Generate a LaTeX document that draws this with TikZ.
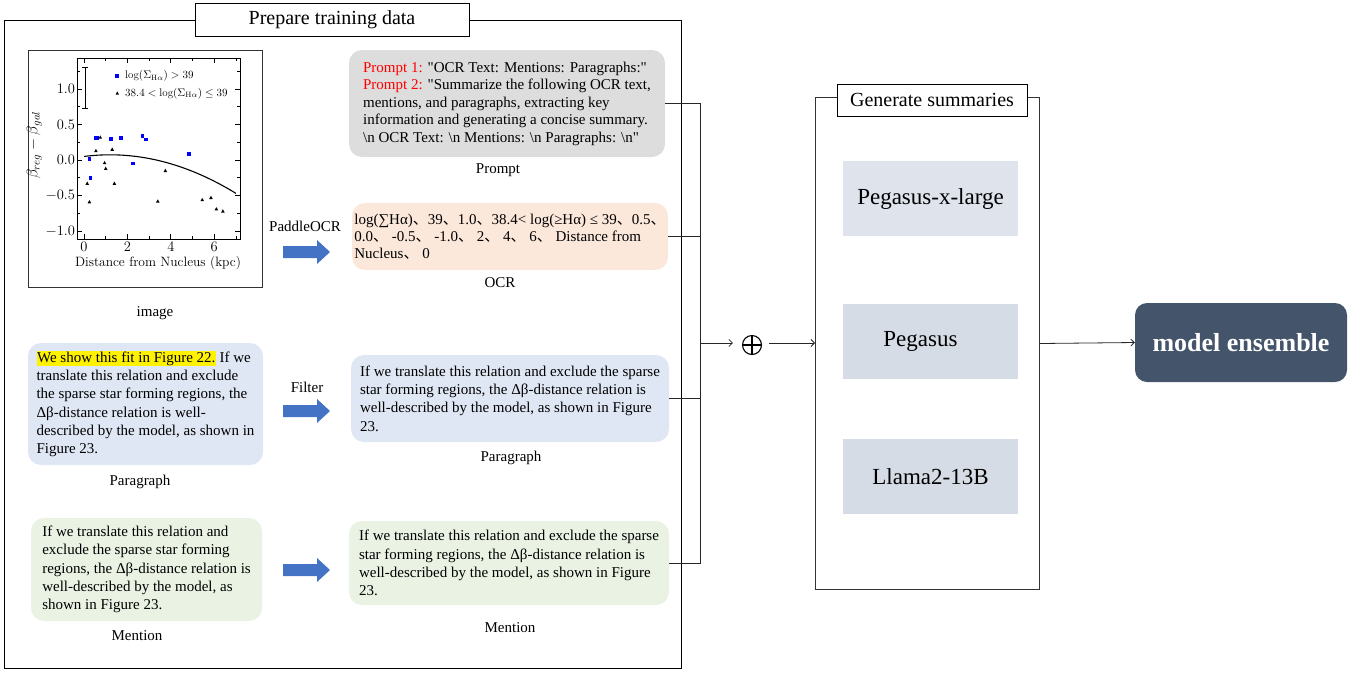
\RequirePackage{fix-cm}
\documentclass[tikz,border=0pt]{standalone}
\usepackage{fontspec}
\usetikzlibrary{arrows.meta,calc}
\newfontfamily\tnr{Liberation Serif}
\newfontfamily\cjk{Noto Sans CJK SC}
\newcommand{\dun}{{\cjk 、}}
\newcommand{\hlbox}[1]{{\setlength{\fboxsep}{0.5pt}\colorbox{yellow}{#1}}}
\definecolor{promptgray}{RGB}{221,221,221}
\definecolor{ocrpeach}{RGB}{252,232,219}
\definecolor{parablue}{RGB}{224,231,244}
\definecolor{mentgreen}{RGB}{233,242,227}
\definecolor{modelA}{RGB}{222,227,236}
\definecolor{modelB}{RGB}{214,220,229}
\definecolor{ensemblec}{RGB}{68,84,106}
\definecolor{arrowblue}{RGB}{68,114,196}
\definecolor{plotblue}{RGB}{0,0,255}
\newcommand{\bluearrow}[2]{\fill[arrowblue] (#1,#2) ++(0,-6) -- ++(34,0) -- ++(0,-6) -- ++(13,12) -- ++(-13,12) -- ++(0,-6) -- ++(-34,0) -- cycle;}
\tikzset{
  txtstyle/.style={font=\tnr\fontsize{15}{18.3}\selectfont},
  tbox/.style={txtstyle, rounded corners=13pt, align=left, inner sep=0pt},
  captxt/.style={font=\tnr\fontsize{15}{18}\selectfont, inner sep=0pt},
  titlebox/.style={draw, line width=0.9pt, fill=white, font=\tnr\fontsize{20}{24}\selectfont, inner sep=0pt},
  panelbox/.style={draw, line width=1pt, anchor=north west, inner sep=0pt},
  modelbox/.style={font=\tnr\fontsize{23}{27}\selectfont, minimum width=175pt, minimum height=75pt, inner sep=0pt},
  conn/.style={draw=black!85, line width=0.8pt},
  barbtip/.style={-{Straight Barb[length=3.5pt,width=7pt]}},
  pfont/.style={font=\fontsize{13.5}{15}\selectfont, inner sep=1pt},
  tickfont/.style={font=\fontsize{14.5}{16}\selectfont, inner sep=1pt},
}
\begin{document}
\begin{tikzpicture}[x=1pt,y=-1pt]
\useasboundingbox (0,0) rectangle (1364,673);

% ---------- Prepare training data panel
\node[panelbox, minimum width=677pt, minimum height=648pt] (prep) at (4,20) {};
\node[titlebox, minimum width=274pt, minimum height=33pt] (preptitle) at (332,19.5) {Prepare training data};

% ---------- plot image
\node[panelbox, line width=1.2pt, draw=black!80, minimum width=234pt, minimum height=237pt] (imgframe) at (28,50) {};
\begin{scope}[shift={(84,160)}, x=21.7pt, y=71pt]
  \draw[line width=0.9pt] (-0.3226,-1.113) rectangle (7.189,1.437);
  \foreach \t in {0,2,4,6} {
    \draw[line width=0.7pt] (\t,-1.113) -- ++(0,0.07);
    \draw[line width=0.7pt] (\t,1.437) -- ++(0,-0.07);
    \node[tickfont, anchor=north] at (\t,-1.14) {$\t$};
  }
  \foreach \t in {1,3,5,7} {
    \draw[line width=0.6pt] (\t,-1.113) -- ++(0,0.04);
    \draw[line width=0.6pt] (\t,1.437) -- ++(0,-0.04);
  }
  \foreach \t/\l in {-1/-1.0,-0.5/-0.5,0/0.0,0.5/0.5,1/1.0} {
    \draw[line width=0.7pt] (-0.3226,\t) -- ++(0.23,0);
    \draw[line width=0.7pt] (7.189,\t) -- ++(-0.23,0);
    \node[tickfont, anchor=east] at (-0.36,\t) {$\l$};
  }
  \foreach \t in {-0.75,-0.25,0.25,0.75,1.25} {
    \draw[line width=0.6pt] (-0.3226,\t) -- ++(0.14,0);
    \draw[line width=0.6pt] (7.189,\t) -- ++(-0.14,0);
  }
  \node[pfont] (xlab) at (3.41,-1.45) {Distance from Nucleus (kpc)};
  \node[font=\fontsize{15.5}{17}\selectfont, inner sep=1pt, rotate=90] (ylab) at (-2.3,0.21) {$\beta_{reg}-\beta_{gal}$};
  % error bar
  \draw[line width=0.8pt] (0.05,0.72) -- (0.05,1.31);
  \draw[line width=0.8pt] (-0.07,0.72) -- (0.17,0.72);
  \draw[line width=0.8pt] (-0.07,1.31) -- (0.17,1.31);
  % fit curve
  \draw[line width=1.1pt, domain=0:7, samples=40] plot (\x, {0.05+0.03876*\x-0.01615*\x*\x});
  % blue squares
  \foreach \a/\b in {0.25/0.01,0.3/-0.25,0.55/0.31,0.6/0.31,1.25/0.30,1.7/0.31,2.25/-0.05,2.7/0.34,2.85/0.29,4.85/0.09,1.535/1.187}
    \fill[plotblue] (\a,\b) +(-1.9pt,-1.9pt) rectangle +(1.9pt,1.9pt);
  % triangles
  \foreach \a/\b in {0.15/-0.33,0.25/-0.59,0.55/0.13,0.75/0.32,0.95/-0.04,1.0/-0.12,1.3/0.15,1.4/-0.33,3.4/-0.58,3.75/-0.15,5.45/-0.56,5.85/-0.53,6.1/-0.69,6.4/-0.72,1.535/0.939}
    \fill[black] (\a,\b) +(-1.8pt,-1.4pt) -- +(1.8pt,-1.4pt) -- +(0,1.9pt) -- cycle;
  \node[font=\fontsize{11}{13}\selectfont, anchor=west, inner sep=0pt] (leg1) at (1.89,1.187) {$\log(\Sigma_{\mathrm{H}\alpha}) > 39$};
  \node[font=\fontsize{11}{13}\selectfont, anchor=west, inner sep=0pt] (leg2) at (1.89,0.939) {$38.4 < \log(\Sigma_{\mathrm{H}\alpha}) \le 39$};
\end{scope}
\node[captxt] (capimg) at (155,313) {image};

% ---------- Prompt
\node[tbox, fill=promptgray, minimum width=316pt, minimum height=107pt, font=\tnr\fontsize{15}{17.5}\selectfont] (prompt) at (507,103.5) {%
{\color{red}Prompt 1:} "OCR Text: Mentions: Paragraphs:"\\
{\color{red}Prompt 2:} "Summarize the following OCR text,\\
mentions, and paragraphs, extracting key\\
information and generating a concise summary.\\
\textbackslash n OCR Text: \textbackslash n Mentions: \textbackslash n Paragraphs: \textbackslash n"};
\node[captxt] (capprompt) at (498,170) {Prompt};

% ---------- OCR
\node[font=\tnr\fontsize{15}{18}\selectfont, inner sep=0pt] (plabel) at (305,226) {PaddleOCR};
\bluearrow{283}{252}
\node[tbox, fill=ocrpeach, minimum width=316pt, minimum height=67pt, font=\tnr\fontsize{15}{17}\selectfont] (ocr) at (510,236.5) {%
log(∑Hα)\dun 39\dun 1.0\dun 38.4< log(≥Hα) ≤ 39\dun 0.5\dun\\
0.0\dun\ -0.5\dun\ -1.0\dun\ 2\dun\ 4\dun\ 6\dun\ Distance from\\
Nucleus\dun\ 0};
\node[captxt] (capocr) at (500,283) {OCR};

% ---------- Paragraph
\node[tbox, fill=parablue, minimum width=235pt, minimum height=122pt] (parL) at (145.5,404) {%
\hlbox{We show this fit in Figure 22.} If we\\
translate this relation and exclude\\
the sparse star forming regions, the\\
Δβ-distance relation is well-\\
described by the model, as shown in\\
Figure 23.};
\node[captxt] (capparL) at (140,482) {Paragraph};
\node[font=\tnr\fontsize{15}{18}\selectfont, inner sep=0pt] (flabel) at (307,387) {Filter};
\bluearrow{283}{411}
\node[tbox, fill=parablue, minimum width=318pt, minimum height=87pt] (parR) at (510,398.5) {%
If we translate this relation and exclude the sparse\\
star forming regions, the Δβ-distance relation is\\
well-described by the model, as shown in Figure\\
23.};
\node[captxt] (capparR) at (511,458) {Paragraph};

% ---------- Mention
\node[tbox, fill=mentgreen, minimum width=231pt, minimum height=103pt] (menL) at (146.5,569.5) {%
If we translate this relation and\\
exclude the sparse star forming\\
regions, the Δβ-distance relation is\\
well-described by the model, as\\
shown in Figure 23.};
\node[captxt] (capmenL) at (137,636) {Mention};
\bluearrow{283}{570}
\node[tbox, fill=mentgreen, minimum width=320pt, minimum height=84pt] (menR) at (509,563) {%
If we translate this relation and exclude the sparse\\
star forming regions, the Δβ-distance relation is\\
well-described by the model, as shown in Figure\\
23.};
\node[captxt] (capmenR) at (510,628) {Mention};

% ---------- Generate summaries panel
\node[panelbox, draw=black!80, minimum width=224pt, minimum height=492pt] (sumbox) at (815,97) {};
\node[titlebox, minimum width=190pt, minimum height=32pt] (sumtitle) at (932,100) {Generate summaries};
\node[modelbox, fill=modelA] (peg1) at (930.5,198.5) {Pegasus-x-large};
\node[modelbox, fill=modelB] (peg2) at (930.5,341.5) {\hspace*{-20pt}Pegasus};
\node[modelbox, fill=modelB] (llama) at (930.5,476.5) {Llama2-13B};

% ---------- Ensemble
\node[fill=ensemblec, rounded corners=12pt, minimum width=212pt, minimum height=79pt, text=white, font=\tnr\bfseries\fontsize{26}{30}\selectfont] (ens) at (1241,342.5) {model ensemble};

% ---------- connectors
\coordinate (bus) at (700,343);
\node[circle, draw=black, line width=1.1pt, minimum size=19pt, inner sep=0pt,
  path picture={\draw[line width=1.1pt] (path picture bounding box.north) -- (path picture bounding box.south)
                (path picture bounding box.west) -- (path picture bounding box.east);}] (oplus) at (752,345) {};
\draw[conn] (prompt.east) -| (bus);
\draw[conn] (ocr.east) -| (bus);
\draw[conn] (parR.east) -| (bus);
\draw[conn] (menR.east) -| (bus);
\draw[conn, barbtip, shorten >=9pt] (bus) -- (bus -| oplus.west);
\draw[conn, barbtip, shorten <=7pt] (bus -| oplus.east) -- (bus -| sumbox.west);
\draw[conn, barbtip] (sumbox.east) -- (ens.west);
\end{tikzpicture}
\end{document}
